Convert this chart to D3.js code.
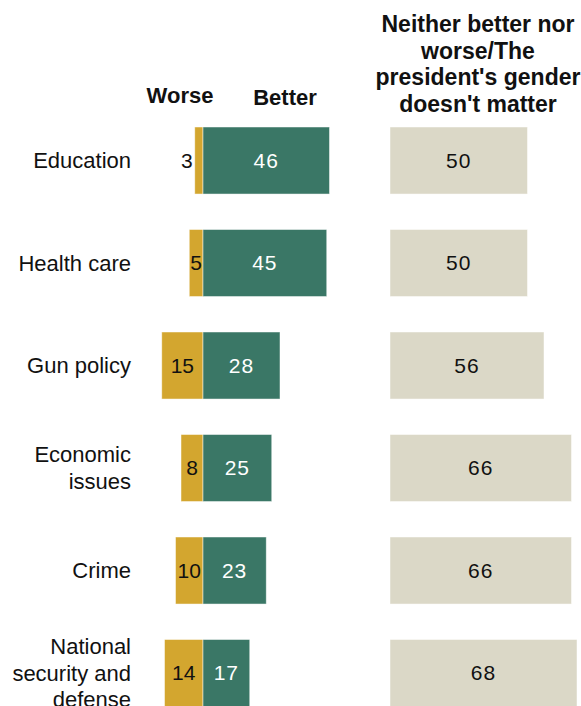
<!DOCTYPE html>
<html>
<head>
<meta charset="utf-8">
<script src="https://cdn.jsdelivr.net/npm/d3@7"></script>
<style>
  html, body { margin: 0; padding: 0; background: #fff; }
  svg { display: block; }
  .cat { font-family: "Liberation Sans", Arial, sans-serif; font-size: 22px; fill: #111; }
  .val { font-family: "Liberation Sans", Arial, sans-serif; font-size: 21px; letter-spacing: 1px; }
  .hdr { font-family: "Liberation Sans Narrow", "Liberation Sans", Arial, sans-serif; font-weight: bold; fill: #111; }
</style>
</head>
<body>
<script>
// Views on how a woman president would handle each issue
const categories = ["Education", "Health care", "Gun policy", "Economic issues", "Crime", "National security and defense"];
const categoryLines = [["Education"], ["Health care"], ["Gun policy"], ["Economic", "issues"], ["Crime"], ["National", "security and", "defense"]];
const worse = [3, 5, 15, 8, 10, 14];
const better = [46, 45, 28, 25, 23, 17];
const neither = [50, 50, 56, 66, 66, 68];
const headerWorse = "Worse";
const headerBetter = "Better";
const headerNeither = ["Neither better nor", "worse/The", "president's gender", "doesn't matter"];

const colors = { worse: "#D3A62F", better: "#3A7766", neither: "#DBD8C7" };

const W = 581, H = 706;
const svg = d3.select("body").append("svg").attr("width", W).attr("height", H);

const x = d3.scaleLinear().domain([0, 100]).range([0, 275]);
const zeroX = 203;      // divide between worse and better
const neitherX = 390;   // left edge of the neither column

const y = d3.scaleBand()
  .domain(categories)
  .range([127, 127 + 6 * 102.5 - 0.346 * 102.5])
  .paddingInner(0.346)
  .paddingOuter(0);

const rows = categories.map((c, i) => ({
  cat: c, lines: categoryLines[i], worse: worse[i], better: better[i], neither: neither[i]
}));

// Category labels, wrapped onto several lines where needed
const lineH = 26.5;
const labelX = 131;
svg.append("g").selectAll("text").data(rows).join("text")
  .attr("class", "cat")
  .attr("text-anchor", "end")
  .attr("y", d => y(d.cat) + y.bandwidth() / 2 - (d.lines.length - 1) * lineH / 2)
  .each(function (d) {
    d3.select(this).selectAll("tspan").data(d.lines).join("tspan")
      .attr("x", labelX)
      .attr("dy", (t, j) => j === 0 ? "0.35em" : lineH)
      .text(t => t);
  });

const bars = svg.append("g");
const edge = "rgba(255,255,255,0.6)";

// Worse bars extend left of the divide
bars.selectAll("rect.worse").data(rows).join("rect")
  .attr("class", "worse")
  .attr("x", d => zeroX - x(d.worse))
  .attr("y", d => y(d.cat))
  .attr("width", d => x(d.worse))
  .attr("height", y.bandwidth())
  .attr("fill", colors.worse)
  .attr("stroke", edge).attr("stroke-width", 0.8);

// Better bars extend right of the divide
bars.selectAll("rect.better").data(rows).join("rect")
  .attr("class", "better")
  .attr("x", zeroX)
  .attr("y", d => y(d.cat))
  .attr("width", d => x(d.better))
  .attr("height", y.bandwidth())
  .attr("fill", colors.better)
  .attr("stroke", edge).attr("stroke-width", 0.8);

// Neither column
bars.selectAll("rect.neither").data(rows).join("rect")
  .attr("class", "neither")
  .attr("x", neitherX)
  .attr("y", d => y(d.cat))
  .attr("width", d => x(d.neither))
  .attr("height", y.bandwidth())
  .attr("fill", colors.neither)
  .attr("stroke", edge).attr("stroke-width", 0.8);

// Value labels
const labels = svg.append("g");
labels.selectAll("text.lw").data(rows).join("text")
  .attr("class", "val lw")
  .attr("fill", "#111")
  .style("letter-spacing", "0px")
  .attr("text-anchor", d => x(d.worse) < 12 ? "end" : "middle")
  .attr("x", d => x(d.worse) < 12 ? zeroX - x(d.worse) - 2 : zeroX - x(d.worse) / 2)
  .attr("y", d => y(d.cat) + y.bandwidth() / 2)
  .attr("dy", "0.35em")
  .text(d => d.worse);

labels.selectAll("text.lb").data(rows).join("text")
  .attr("class", "val lb")
  .attr("fill", "#fff")
  .attr("text-anchor", "middle")
  .attr("x", d => zeroX + x(d.better) / 2)
  .attr("y", d => y(d.cat) + y.bandwidth() / 2)
  .attr("dy", "0.35em")
  .text(d => d.better);

labels.selectAll("text.ln").data(rows).join("text")
  .attr("class", "val ln")
  .attr("fill", "#111")
  .attr("text-anchor", "middle")
  .attr("x", d => neitherX + x(d.neither) / 2)
  .attr("y", d => y(d.cat) + y.bandwidth() / 2)
  .attr("dy", "0.35em")
  .text(d => d.neither);

// Column headers
svg.append("text").attr("class", "hdr").attr("text-anchor", "middle")
  .style("font-size", "22px")
  .attr("x", 180).attr("y", 103).text(headerWorse);
svg.append("text").attr("class", "hdr").attr("text-anchor", "middle")
  .style("font-size", "22px")
  .attr("x", 285).attr("y", 105).text(headerBetter);
svg.append("g").selectAll("text").data(headerNeither).join("text")
  .attr("class", "hdr").attr("text-anchor", "middle")
  .style("font-size", "23px")
  .attr("x", 478).attr("y", (d, i) => 32 + i * 26.7)
  .text(d => d);
</script>
</body>
</html>
